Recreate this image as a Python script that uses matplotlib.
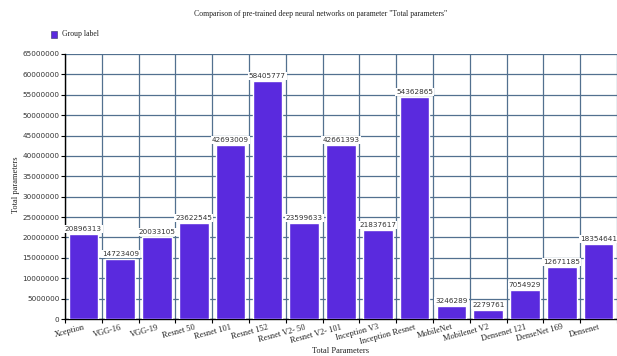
import matplotlib
matplotlib.use("Agg")
import matplotlib.pyplot as plt
import numpy as np

models = ["Xception", "VGG-16", "VGG-19", "Resnet 50", "Resnet 101", "Resnet 152",
          "Resnet V2- 50", "Resnet V2- 101", "Inception V3", "Inception Resnet",
          "MobileNet", "Mobilenet V2", "Densenet 121", "DenseNet 169", "Densenet"]
total_params = [20896313, 14723409, 20033105, 23622545, 42693009, 58405777,
                23599633, 42661393, 21837617, 54362865, 3246289, 2279761,
                7054929, 12671185, 18354641]
y_ticks = list(range(0, 65000001, 5000000))

bar_color = "#5a2ade"
grid_color = "#52708f"
serif = ["Liberation Serif", "DejaVu Serif"]

fig = plt.figure(figsize=(6.17, 3.56), dpi=100)
ax = fig.add_axes([65 / 617, 37 / 356, 552 / 617, 265 / 356])

x = np.arange(len(models))
bars = ax.bar(x, total_params, width=0.8, color=bar_color, edgecolor="white",
              linewidth=1.0, zorder=3)

for xi, v in zip(x, total_params):
    ax.annotate(str(v), (xi, v), xytext=(0, 1.5), textcoords="offset points",
                ha="center", va="bottom", fontsize=5.2, color="#333333",
                family="DejaVu Sans", zorder=5,
                bbox=dict(boxstyle="square,pad=0.15", fc="white", ec="none"))

ax.set_xlim(-0.5, len(models) - 0.5)
ax.set_ylim(0, 65000000)
ax.set_yticks(y_ticks)
ax.set_yticklabels([str(t) for t in y_ticks], fontsize=5.2, family="DejaVu Sans",
                   color="#333333")

ax.set_xticks(x)
ax.set_xticklabels(models, rotation=15, ha="right", rotation_mode="anchor",
                   fontsize=6, family=serif, color="#222222")
ax.set_xticks(np.arange(-0.5, len(models), 1.0), minor=True)
ax.tick_params(axis="x", which="major", length=0, pad=3)
ax.tick_params(axis="x", which="minor", length=3, color="black", width=0.8)
ax.tick_params(axis="y", length=3, width=0.8, color="black", pad=1)

ax.grid(axis="y", which="major", color=grid_color, linewidth=0.9, zorder=0)
ax.grid(axis="x", which="minor", color=grid_color, linewidth=0.9, zorder=0)

for side in ("top", "right"):
    ax.spines[side].set_visible(False)
ax.spines["left"].set_color("black")
ax.spines["bottom"].set_color("black")
ax.spines["left"].set_linewidth(1.0)
ax.spines["bottom"].set_linewidth(1.0)
ax.set_axisbelow(True)

fig.text(16 / 617, 1 - 185 / 356, "Total parameters", rotation=90, ha="center",
         va="center", fontsize=6, family=serif, color="#222222")
fig.text(341 / 617, 1 - 351 / 356, "Total Parameters", ha="center", va="center",
         fontsize=6, family=serif, color="#222222")
fig.text(321 / 617, 1 - 14 / 356,
         'Comparison of pre-trained deep neural networks on parameter "Total parameters"',
         ha="center", va="center", fontsize=5.6, family=serif, color="#222222")

# legend
fig.patches.append(plt.Rectangle((51 / 617, 1 - 37.5 / 356), 6 / 617, 6 / 356,
                                 transform=fig.transFigure, facecolor=bar_color,
                                 edgecolor="#333366", linewidth=0.4))
fig.text(62 / 617, 1 - 34.5 / 356, "Group label", ha="left", va="center",
         fontsize=5.6, family=serif, color="#222222")

fig.savefig("out.png", dpi=100)
